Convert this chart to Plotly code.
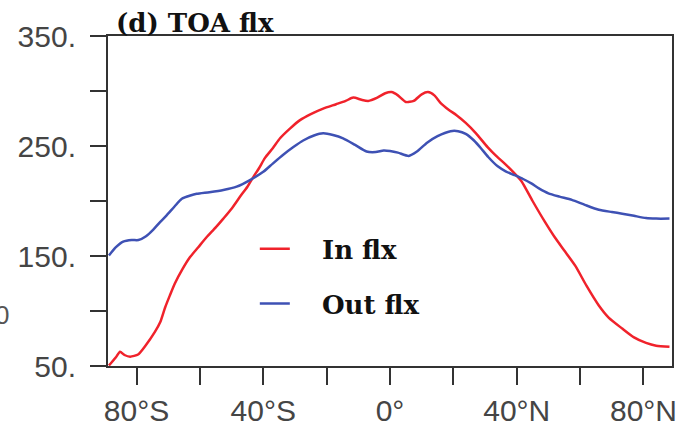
import plotly.graph_objects as go

# Zonal-mean top-of-atmosphere fluxes (W m-2) by latitude
lat_in = [-88.7, -86.5, -85.2, -83.8, -82.0, -79.5, -77.3, -74.2, -72.5, -71.0,
          -69.5, -67.9, -65.5, -63.1, -60.5, -57.9, -55.0, -52.6, -50.0, -47.3,
          -45.0, -43.1, -41.3, -39.5, -37.0, -34.7, -31.5, -28.4, -25.0, -21.1,
          -17.0, -14.0, -11.6, -9.0, -6.9, -4.0, -1.5, 0.5, 2.5, 5.0,
          7.5, 10.0, 12.0, 14.0, 16.0, 18.5, 21.0, 23.9, 27.0, 30.8,
          33.5, 36.2, 39.0, 41.5, 45.0, 48.9, 52.0, 55.0, 58.5, 62.0,
          65.9, 69.0, 73.3, 77.0, 80.8, 84.0, 88.2]
flx_in = [50.5, 58, 63, 60, 58.5, 60.5, 68, 81, 90, 103,
          114, 125, 138, 149, 158, 167, 176, 184, 193, 204,
          213, 222, 230, 239, 248, 257, 266, 273.5, 279, 284,
          288, 291, 294, 292, 291, 294, 298, 299, 296, 290,
          291, 297, 299, 296, 289, 283, 278, 271, 262, 249,
          241, 234, 226, 218, 200, 181, 167, 155, 141, 123,
          105, 94, 84, 76, 71, 68.5, 67.5]

lat_out = [-88.7, -86.5, -84.2, -81.5, -79.4, -77.0, -74.7, -72.5, -70.5, -68.0,
           -65.7, -63.0, -61.0, -57.0, -52.6, -48.4, -44.2, -40.0, -37.0, -33.7,
           -30.5, -27.4, -24.0, -21.1, -18.0, -14.8, -11.0, -7.4, -4.5, -2.0,
           0.0, 2.5, 5.9, 8.5, 11.7, 15.0, 19.1, 21.5, 23.9, 26.5,
           28.7, 31.0, 34.0, 36.5, 39.3, 42.0, 44.6, 47.0, 50.0, 53.5,
           57.4, 61.5, 65.9, 70.0, 73.3, 77.0, 80.8, 84.0, 88.2]
flx_out = [150.5, 158, 163, 164.5, 164.5, 168, 174, 181, 187, 195,
           202, 205, 206.5, 208, 210, 213, 219, 226.5, 234, 242,
           249, 255, 259.5, 261.5, 260, 257, 251, 245, 244.5, 246,
           245.5, 244, 241, 245, 253, 259, 263.5, 263.5, 261, 255,
           248, 240, 231.5, 227, 223.5, 220, 216, 211.5, 207, 204,
           201, 196.5, 192, 190, 188.5, 186.5, 184.5, 184, 184]

x_tickvals = [-80, -60, -40, -20, 0, 20, 40, 60, 80]
x_ticktext = ["80°S", "", "40°S", "", "0°", "", "40°N", "", "80°N"]
y_tickvals = [50, 100, 150, 200, 250, 300, 350]
y_ticktext = ["50.", "", "150.", "", "250.", "", "350."]

NBSP = "\u00a0"
serif_bold = dict(family="DejaVu Serif", size=26, color="#111111", weight="bold")
axis_col = "#333333"
label_font = dict(family="Liberation Sans", size=30, color="#454545")

fig = go.Figure()
fig.add_trace(go.Scatter(
    x=lat_in, y=flx_in, mode="lines", name=NBSP * 3 + "In flx",
    legendgroup="in", line=dict(color="#f0222b", width=2.5, shape="spline", smoothing=0.6),
))
fig.add_trace(go.Scatter(
    x=lat_out, y=flx_out, mode="lines", name=NBSP * 3 + "Out flx",
    legendgroup="out", line=dict(color="#3e51b4", width=2.5, shape="spline", smoothing=0.6),
))

fig.update_layout(
    width=683, height=432,
    margin=dict(l=108, r=11, t=36, b=66),
    paper_bgcolor="white", plot_bgcolor="white",
    showlegend=True,
    legend=dict(
        x=0.2603, y=0.426, xanchor="left", yanchor="top",
        bgcolor="rgba(0,0,0,0)", font=serif_bold,
        tracegroupgap=18, valign="bottom",
    ),
    annotations=[
        dict(text="(d) TOA flx", xref="paper", yref="paper",
             x=(114 - 108) / 564, y=1.0, xanchor="left", yanchor="bottom",
             yshift=-4, showarrow=False,
             font=dict(family="DejaVu Serif", size=26, color="#111111", weight="bold")),
        dict(text="0", xref="paper", yref="paper",
             x=(2 - 108) / 564, y=(366 - 315) / 330, xanchor="center", yanchor="middle",
             showarrow=False, font=dict(family="Liberation Sans", size=26, color="#555555")),
    ],
)

fig.update_xaxes(
    range=[-89, 89], tickmode="array", tickvals=x_tickvals, ticktext=x_ticktext,
    ticks="outside", ticklen=17, tickwidth=2, tickcolor=axis_col,
    showline=True, linewidth=2, linecolor=axis_col, mirror=True, automargin=False,
    showgrid=False, zeroline=False, tickfont=label_font, ticklabelstandoff=0,
)
fig.update_yaxes(
    range=[50, 350], tickmode="array", tickvals=y_tickvals, ticktext=y_ticktext,
    ticks="outside", ticklen=16, tickwidth=2, tickcolor=axis_col,
    showline=True, linewidth=2, linecolor=axis_col, mirror=True, automargin=False,
    showgrid=False, zeroline=False, tickfont=label_font, ticklabelstandoff=8,
)

fig.write_html("out.html")
